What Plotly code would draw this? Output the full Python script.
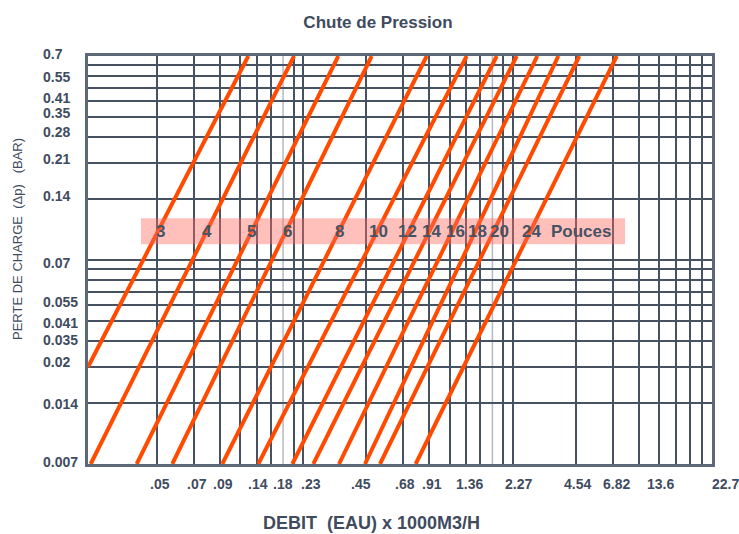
import math
import plotly.graph_objects as go

# ---------------- data ----------------
# pipe sizes (inches) for each pressure-drop line
SIZES = ["3", "4", "5", "6", "8", "10", "12", "14", "16", "18", "20", "24"]
# each line: start point (flow, pressure drop) -> end point (flow, pressure drop)
START_Q = [0.02127, 0.02191, 0.03634, 0.05374, 0.09314, 0.1384, 0.2012, 0.2534, 0.3362, 0.4474, 0.5278, 0.7815]
START_P = [0.02061, 0.006895, 0.006895, 0.006895, 0.006895, 0.006895, 0.006895, 0.006895, 0.006895, 0.006895, 0.006895, 0.006895]
END_Q = [0.1240, 0.2050, 0.3336, 0.4817, 0.8822, 1.369, 1.905, 2.374, 2.978, 3.752, 4.725, 7.131]
END_P = [0.6895, 0.6895, 0.6895, 0.6895, 0.6895, 0.6895, 0.6895, 0.6895, 0.6895, 0.6895, 0.6895, 0.6895]

# where each size label sits inside the band (flow value)
SIZE_LABEL_X = [0.04746, 0.07897, 0.1287, 0.1904, 0.3399, 0.5163, 0.7126, 0.9248, 1.204, 1.539, 1.960, 2.778]
UNIT_LABEL = "Pouces"
UNIT_LABEL_X = 4.814
BAND_LABEL_Y = 0.09533

# x tick labels (x 1000 m3/h) and where they are printed
X_TICK_LABELS = [".05", ".07", ".09", ".14", ".18", ".23", ".45", ".68", ".91",
                 "1.36", "2.27", "4.54", "6.82", "13.6", "22.7"]
X_TICK_POS = [0.04694, 0.07053, 0.09386, 0.1379, 0.1816, 0.2470, 0.4281, 0.6949, 0.9350,
              1.420, 2.408, 4.607, 7.076, 11.48, 23.46]

# y tick labels (bar) and where they are printed
Y_TICK_LABELS = ["0.7", "0.55", "0.41", "0.35", "0.28", "0.21", "0.14", "0.07",
                 "0.055", "0.041", "0.035", "0.02", "0.014", "0.007"]
Y_TICK_POS = [0.7028, 0.5410, 0.4316, 0.3643, 0.2931, 0.2151, 0.1412, 0.06703,
              0.04268, 0.03394, 0.02795, 0.02188, 0.01360, 0.007013]

# grid lines
X_GRID = [0.0454, 0.0681, 0.0908, 0.1136, 0.1363, 0.1590, 0.2044, 0.2271,
          0.4542, 0.6813, 0.9084, 1.1355, 1.3626, 1.5897, 2.0439, 2.271,
          4.542, 6.813, 9.084, 11.355, 13.626, 15.897, 18.168, 20.439]
X_GRID_LIGHT = [0.1817, 1.8168]
Y_GRID = [0.6205, 0.5516, 0.4826, 0.4137, 0.3447, 0.2758, 0.2068, 0.1379,
          0.06895, 0.06205, 0.05516, 0.04826, 0.04137, 0.03447, 0.02758, 0.02068, 0.01379]

# axis extents and label band extents
X_MIN, X_MAX = 0.02127, 20.33
Y_MIN, Y_MAX = 0.006895, 0.6895
BAND_X = (0.03808, 7.810)
BAND_Y = (0.08231, 0.1104)

TITLE = "Chute de Pression"
X_TITLE = "DEBIT\u00a0\u00a0(EAU) x 1000M3/H"
Y_TITLE = "PERTE DE CHARGE\u00a0\u00a0(\u0394p)\u00a0\u00a0\u00a0(BAR)"

# ---------------- styles ----------------
FONT = "Liberation Sans, Arial, sans-serif"
TEXT_COLOR = "#3f4b5e"
GRID_COLOR = "#465262"
LINE_COLOR = "#ff4a00"

LX0, LX1 = math.log10(X_MIN), math.log10(X_MAX)
LY0, LY1 = math.log10(Y_MIN), math.log10(Y_MAX)


def xpaper(v):
    return (math.log10(v) - LX0) / (LX1 - LX0)


def ypaper(v):
    return (math.log10(v) - LY0) / (LY1 - LY0)


fig = go.Figure()

for i in range(len(SIZES)):
    fig.add_trace(go.Scatter(
        x=[START_Q[i], END_Q[i]], y=[START_P[i], END_P[i]],
        mode="lines", line=dict(color=LINE_COLOR, width=4),
        showlegend=False, hoverinfo="skip"))

shapes = []
for xv in X_GRID_LIGHT:
    shapes.append(dict(type="line", xref="x", yref="paper", x0=xv, x1=xv, y0=0, y1=1,
                       line=dict(color="#b4bac2", width=1.5), layer="below"))
shapes.append(dict(type="rect", xref="x", yref="y", x0=BAND_X[0], x1=BAND_X[1],
                   y0=BAND_Y[0], y1=BAND_Y[1], line=dict(width=0),
                   fillcolor="rgba(255,105,95,0.42)", layer="above"))

annotations = []
for lab, xv in zip(SIZES, SIZE_LABEL_X):
    annotations.append(dict(x=math.log10(xv), y=math.log10(BAND_LABEL_Y), xref="x", yref="y",
                            text=lab, showarrow=False, xanchor="center", yanchor="middle",
                            font=dict(family=FONT, size=17, color="#475263", weight="bold")))
annotations.append(dict(x=math.log10(UNIT_LABEL_X), y=math.log10(BAND_LABEL_Y), xref="x", yref="y",
                        text=UNIT_LABEL, showarrow=False, xanchor="center", yanchor="middle",
                        font=dict(family=FONT, size=17, color="#475263", weight="bold")))

plot_l, plot_r, plot_t, plot_b = 88, 712, 56, 464
pw, ph = plot_r - plot_l, plot_b - plot_t

for lab, xv in zip(X_TICK_LABELS, X_TICK_POS):
    annotations.append(dict(x=xpaper(xv), y=(plot_b - 483.5) / ph, xref="paper", yref="paper",
                            text=lab, showarrow=False, xanchor="center", yanchor="middle",
                            font=dict(family=FONT, size=14, color=TEXT_COLOR, weight="bold")))
for lab, yv in zip(Y_TICK_LABELS, Y_TICK_POS):
    annotations.append(dict(x=(41 - plot_l) / pw, y=ypaper(yv), xref="paper", yref="paper",
                            text=lab, showarrow=False, xanchor="left", yanchor="middle",
                            font=dict(family=FONT, size=14, color=TEXT_COLOR, weight="bold")))

annotations.append(dict(x=(371 - plot_l) / pw, y=(plot_b - 523) / ph, xref="paper", yref="paper",
                        text=X_TITLE, showarrow=False, xanchor="center", yanchor="middle",
                        font=dict(family=FONT, size=18, color=TEXT_COLOR, weight="bold")))
annotations.append(dict(x=(18 - plot_l) / pw, y=(plot_b - 239) / ph, xref="paper", yref="paper",
                        text=Y_TITLE, showarrow=False, textangle=-90, xanchor="center", yanchor="middle",
                        font=dict(family=FONT, size=13, color=TEXT_COLOR)))

fig.update_layout(
    width=739, height=534,
    margin=dict(l=plot_l, r=739 - plot_r, t=plot_t, b=534 - plot_b),
    paper_bgcolor="white", plot_bgcolor="white",
    title=dict(text=TITLE, x=378 / 739, xref="container", xanchor="center",
               y=1 - 22 / 534, yref="container", yanchor="middle",
               font=dict(family=FONT, size=17, color=TEXT_COLOR, weight="bold")),
    shapes=shapes, annotations=annotations,
    xaxis=dict(type="log", range=[LX0, LX1],
               tickmode="array", tickvals=X_GRID, showticklabels=False, ticks="",
               showgrid=True, gridcolor=GRID_COLOR, gridwidth=2, zeroline=False,
               showline=True, mirror=True, linecolor="#5d6878", linewidth=2.5),
    yaxis=dict(type="log", range=[LY0, LY1],
               tickmode="array", tickvals=Y_GRID, showticklabels=False, ticks="",
               showgrid=True, gridcolor=GRID_COLOR, gridwidth=2, zeroline=False,
               showline=True, mirror=True, linecolor="#5d6878", linewidth=2.5),
)

fig.write_html("out.html", config={"displayModeBar": False},
               post_script="document.body.style.margin='0';document.body.style.overflow='hidden';")
